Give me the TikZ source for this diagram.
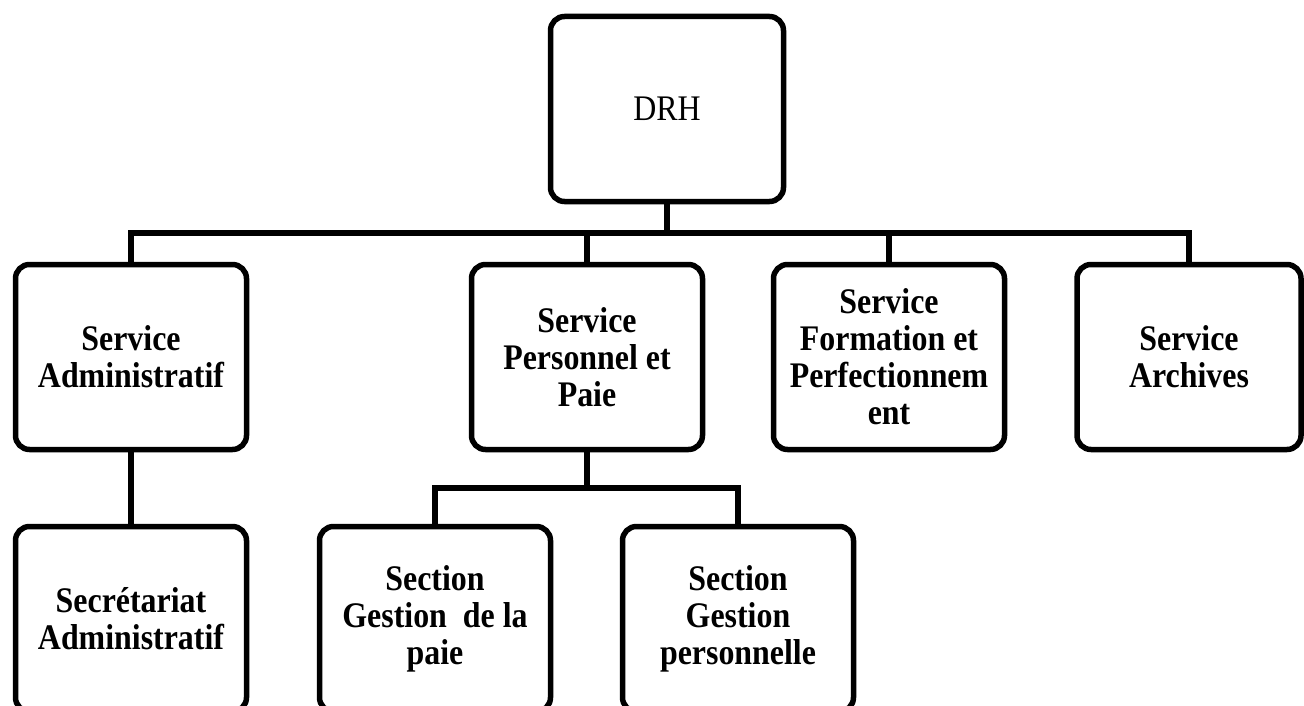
\documentclass[tikz,border=0pt]{standalone}
\usepackage{fontspec}
\setmainfont{Liberation Serif}[FakeStretch=0.886]
\begin{document}
\begin{tikzpicture}[x=1pt,y=-1pt,
  box/.style={draw, line width=5.5pt, rounded corners=14pt, minimum width=231pt,
    minimum height=185pt, inner sep=0pt, align=center,
    font=\fontsize{36}{37}\selectfont\bfseries},
  link/.style={line width=5.5pt}]
\path[use as bounding box, clip] (0,0) rectangle (1304,706);
\node[box, minimum width=233pt, font=\fontsize{36}{37}\selectfont] (drh) at (667,109) {DRH};
\node[box] (admin) at (131,357) {Service\\Administratif};
\node[box] (pers) at (587,357) {Service\\Personnel et\\Paie};
\node[box] (form) at (889,357) {Service\\Formation et\\Perfectionnem\\ent};
\node[box, minimum width=224pt] (arch) at (1189,357) {Service\\Archives};
\node[box] (secr) at (131,619) {Secrétariat\\Administratif};
\node[box] (paie) at (435,619) {Section\\Gestion\ \ de la\\paie};
\node[box] (gp) at (738,619) {Section\\Gestion\\personnelle};
\coordinate (hub) at (667,233);
\coordinate (sub) at (587,488);
\draw[link] (drh.south) -- (hub);
\draw[link] (admin.north) |- (hub) -| (arch.north);
\draw[link] (hub) -| (pers.north);
\draw[link] (hub) -| (form.north);
\draw[link] (admin.south) -- (secr.north);
\draw[link] (pers.south) -- (sub);
\draw[link] (paie.north) |- (sub) -| (gp.north);
\end{tikzpicture}
\end{document}
